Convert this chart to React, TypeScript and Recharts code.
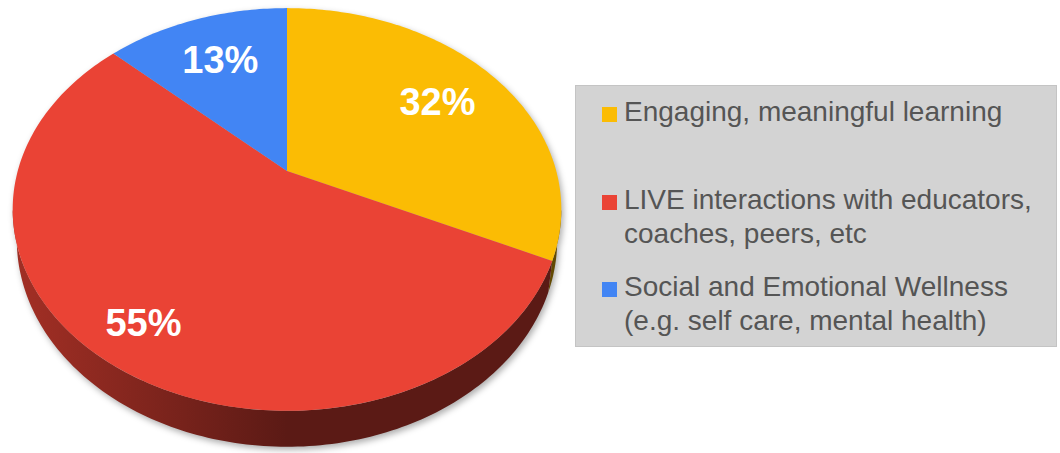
import { Cell, Legend, Pie, PieChart } from "recharts";

const CATEGORIES = [
  "Engaging, meaningful learning",
  "LIVE interactions with educators, coaches, peers, etc",
  "Social and Emotional Wellness (e.g. self care, mental health)",
];
const SHARES = [32, 55, 13];
const COLORS = ["#fbbc04", "#ea4335", "#4285f4"];

const data = CATEGORIES.map((name, i) => ({ name, value: SHARES[i] }));

// tilt of the 3D disc: perspective, x stretch, thickness (all relative to radius)
const PERSP = -0.191;
const ASPECT = 1.388;
const DEPTH = 0.15;
const BOTTOM_SHRINK = 0.985; // bottom rim sits a bit further away
const SIDE_FROM = (Math.acos(PERSP) * 180) / Math.PI;
const SIDE_TO = 360 - SIDE_FROM;

const FONT = '"Liberation Sans", Arial, sans-serif';

// phi = degrees clockwise from 12 o'clock, r = fraction of radius
const project = (cx: number, cy: number, R: number, phi: number, r: number, drop = 0) => {
  const t = (phi * Math.PI) / 180;
  const u = r * Math.sin(t);
  const v = -r * Math.cos(t);
  const w = 1 + PERSP * v;
  const sx = drop ? BOTTOM_SHRINK : 1;
  return [cx + (sx * R * ASPECT * u) / w, cy + (R * v + drop * R * DEPTH) / w];
};

const shade = (hex: string, k: number) => {
  const n = parseInt(hex.slice(1), 16);
  const c = [(n >> 16) & 255, (n >> 8) & 255, n & 255].map((x) => Math.round(x * k));
  return `rgb(${c[0]},${c[1]},${c[2]})`;
};

const arc = (cx: number, cy: number, R: number, a: number, b: number, drop = 0) => {
  const steps = Math.max(2, Math.ceil(Math.abs(b - a)));
  const pts: number[][] = [];
  for (let i = 0; i <= steps; i++) {
    pts.push(project(cx, cy, R, a + ((b - a) * i) / steps, 1, drop));
  }
  return pts;
};

const Slice3D = (props: any) => {
  const { cx, cy, outerRadius: R, startAngle, endAngle, fill } = props;
  const p0 = 90 - startAngle;
  const p1 = 90 - endAngle;
  const top = arc(cx, cy, R, p0, p1);
  const topPath =
    `M${cx},${cy}` + top.map(([x, y]) => `L${x.toFixed(2)},${y.toFixed(2)}`).join("") + "Z";

  const s0 = Math.max(p0, SIDE_FROM);
  const s1 = Math.min(p1, SIDE_TO);
  let sidePath = "";
  if (s1 > s0) {
    const upper = arc(cx, cy, R, s0, s1);
    const lower = arc(cx, cy, R, s0, s1, 1).reverse();
    sidePath =
      [...upper, ...lower]
        .map(([x, y], i) => `${i ? "L" : "M"}${x.toFixed(2)},${y.toFixed(2)}`)
        .join("") + "Z";
  }
  const gid = `side-${String(fill).replace("#", "")}`;

  return (
    <g>
      <defs>
        <linearGradient
          id={gid}
          gradientUnits="userSpaceOnUse"
          x1={cx - R * ASPECT * 0.95}
          y1={0}
          x2={cx}
          y2={0}
        >
          <stop offset="0" stopColor={shade(fill, 0.68)} />
          <stop offset="1" stopColor={shade(fill, 0.39)} />
        </linearGradient>
      </defs>
      {sidePath && <path d={sidePath} fill={`url(#${gid})`} stroke="none" />}
      <path d={topPath} fill={fill} stroke="none" />
    </g>
  );
};

const renderLabel = (props: any) => {
  const { cx, cy, outerRadius, midAngle, percent } = props;
  const r = 0.7 + 0.5 * Math.max(0, percent - 0.3);
  const [x, y] = project(cx, cy, outerRadius, 90 - midAngle, r);
  return (
    <text
      x={x}
      y={y}
      fill="#ffffff"
      fontSize={38}
      fontWeight={700}
      fontFamily={FONT}
      textAnchor="middle"
      dominantBaseline="central"
    >
      {`${Math.round(percent * 100)}%`}
    </text>
  );
};

const LegendBox = ({ payload }: any) => {
  const items = payload ?? [];
  return (
    <div
      style={{
        boxSizing: "border-box",
        width: 482,
        height: 262,
        background: "#d3d3d3",
        border: "1px solid #c4c4c4",
        padding: "9px 8px 0 26px",
        fontFamily: FONT,
        fontSize: 28,
        lineHeight: "34px",
        color: "#555555",
      }}
    >
      {items.map((p: any, i: number) => (
        <div
          key={i}
          style={{
            display: "flex",
            alignItems: "flex-start",
            height: i < items.length - 1 ? 87.5 : "auto",
          }}
        >
          <div
            style={{
              width: 15,
              height: 15,
              marginTop: 12,
              marginRight: 7,
              background: COLORS[i],
              flex: "none",
            }}
          />
          <div style={{ width: 424 }}>{p.value}</div>
        </div>
      ))}
    </div>
  );
};

export default function App() {
  return (
    <div
      style={{
        position: "fixed",
        left: 0,
        top: 0,
        width: 1060,
        height: 453,
        background: "#ffffff",
      }}
    >
      <style>{`.recharts-pie > g:has(> .recharts-pie-sector){filter: drop-shadow(2px 3px 3px rgba(0,0,0,0.32));}`}</style>
      <PieChart width={1060} height={453} margin={{ top: 0, right: 0, bottom: 0, left: 0 }}>
        <Pie
          data={data}
          dataKey="value"
          nameKey="name"
          cx={287}
          cy={171}
          outerRadius={194}
          startAngle={90}
          endAngle={-270}
          stroke="none"
          shape={Slice3D}
          label={renderLabel}
          labelLine={false}
          isAnimationActive={false}
        >
          {data.map((_, i) => (
            <Cell key={i} fill={COLORS[i]} />
          ))}
        </Pie>
        <Legend
          layout="vertical"
          align="right"
          verticalAlign="top"
          content={<LegendBox />}
          wrapperStyle={{ left: 575, top: 85, right: "auto", bottom: "auto", width: 482, height: 262 }}
        />
      </PieChart>
    </div>
  );
}
